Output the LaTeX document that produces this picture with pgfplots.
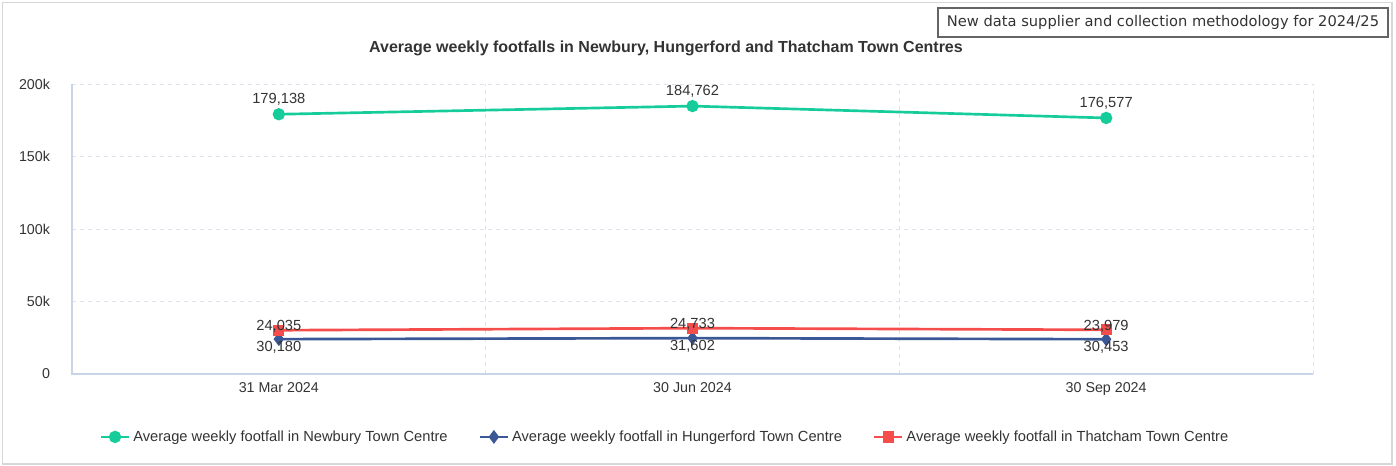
\documentclass[border=0pt]{standalone}
\usepackage{pgfplots}
\pgfplotsset{compat=1.18}
\usepackage{fontspec}
\setmainfont{Liberation Sans}
\newfontfamily\verdana{DejaVu Sans}
\definecolor{cgreen}{RGB}{22,204,154}
\definecolor{cblue}{RGB}{58,88,150}
\definecolor{cred}{RGB}{245,76,76}
\definecolor{cgrid}{RGB}{222,226,236}
\definecolor{caxis}{RGB}{200,212,232}
\definecolor{ctext}{RGB}{51,51,51}
\begin{document}
\begin{tikzpicture}
% outer frame (1px = 0.75pt)
\path[use as bounding box] (0,0) rectangle (1047pt,349.5pt);
\draw[color={rgb,255:red,215;green,215;blue,215}, line width=1.2pt] (2pt,1.5pt) rectangle (1044pt,347.5pt);
\begin{axis}[
  at={(54pt,69pt)}, anchor=south west,
  scale only axis, width=930.75pt, height=217.5pt,
  xmin=-0.5, xmax=2.5, ymin=0, ymax=200000,
  xtick={0,1,2},
  xticklabels={31 Mar 2024,30 Jun 2024,30 Sep 2024},
  major x tick style={draw=none},
  extra x ticks={-0.5,0.5,1.5,2.5},
  extra x tick labels={},
  extra x tick style={grid=major, major grid style={cgrid, dashed, line width=0.6pt},
     major tick length=9pt, tick align=outside, tick style={caxis, line width=0.8pt}},
  ytick={0,50000,100000,150000,200000},
  yticklabels={0,50k,100k,150k,200k},
  scaled y ticks=false,
  ymajorgrids, major grid style={cgrid, dashed, line width=0.6pt},
  major y tick style={draw=none},
  axis line style={draw=none},
  tick label style={font=\fontsize{10.7}{12}\selectfont, text=ctext},
  yticklabel style={xshift=-13pt},
  xticklabel style={yshift=-3pt},
  clip=false,
  legend style={at={(0.478,-0.217)}, anchor=center, draw=none, fill=none,
     font=\fontsize{11}{13}\selectfont, text=ctext, legend columns=3,
     /tikz/every even column/.append style={column sep=21pt}},
  legend image code/.code={
     \draw[#1, mark=none] (0cm,0cm) -- (0.75cm,0cm);
     \draw[#1] plot coordinates {(0.375cm,0cm)};},
  every node near coord/.append style={font=\fontsize{11}{13}\selectfont, text=ctext},
]
\draw[caxis, line width=0.9pt] (axis cs:-0.5,200000) -- (axis cs:-0.5,0) -- (axis cs:2.5,0);
\addplot[cgreen, line width=2pt, mark=*, mark size=3.6pt,
  nodes near coords, point meta=explicit symbolic,
  every node near coord/.append style={anchor=south, yshift=2pt}]
  table[meta=lab] {
x y lab
0 179138 179{,}138
1 184762 184{,}762
2 176577 176{,}577
};
\addlegendentry{Average weekly footfall in Newbury Town Centre}
\addplot[cblue, line width=2pt, mark=diamond*, mark size=3.6pt,
  nodes near coords, point meta=explicit symbolic,
  every node near coord/.append style={anchor=north, yshift=3pt}]
  table[meta=lab] {
x y lab
0 24035 30{,}180
1 24733 31{,}602
2 23979 30{,}453
};
\addlegendentry{Average weekly footfall in Hungerford Town Centre}
\addplot[cred, line width=2pt, mark=square*, mark size=3.2pt,
  nodes near coords, point meta=explicit symbolic,
  every node near coord/.append style={anchor=south, yshift=-6pt}]
  table[meta=lab] {
x y lab
0 30180 24{,}035
1 31602 24{,}733
2 30453 23{,}979
};
\addlegendentry{Average weekly footfall in Thatcham Town Centre}
\end{axis}
\node[font=\bfseries\fontsize{12}{14}\selectfont, text=ctext] at (499.5pt,313.5pt) {Average weekly footfalls in Newbury, Hungerford and Thatcham Town Centres};
\draw[color={rgb,255:red,100;green,100;blue,100}, line width=0.8pt, fill=white] (703.5pt,321.75pt) rectangle (1041pt,343.5pt);
\node[font=\verdana\fontsize{11}{13}\selectfont, text=ctext] at (872.25pt,332.6pt) {New data supplier and collection methodology for 2024/25};
\end{tikzpicture}
\end{document}
